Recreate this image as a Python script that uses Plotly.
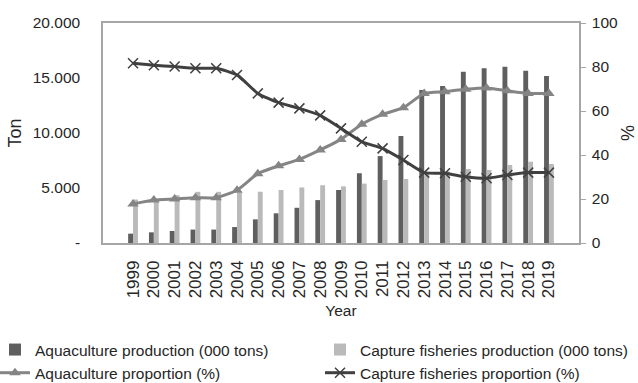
import plotly.graph_objects as go

# Production and share data, 1999-2019
years = [str(y) for y in range(1999, 2020)]
aquaculture_prod = [850, 970, 1090, 1220, 1220, 1450, 2150, 2700, 3200, 3900, 4820,
                    6340, 7900, 9730, 13900, 14270, 15570, 15880, 16030, 15670, 15180]
capture_prod = [3950, 4000, 4350, 4650, 4650, 4600, 4660, 4820, 5050, 5250, 5150,
                5400, 5730, 5820, 6450, 6500, 6730, 6640, 7090, 7390, 7180]
aquaculture_pct = [17.7, 19.5, 20.0, 20.6, 20.6, 24.0, 31.5, 35.1, 38.0, 42.3, 47.1,
                   54.0, 58.5, 61.5, 68.0, 68.8, 69.9, 70.5, 69.2, 68.0, 68.0]
capture_pct = [81.7, 80.8, 80.2, 79.4, 79.4, 76.4, 68.0, 63.8, 61.2, 58.0, 52.1,
               46.0, 43.0, 37.7, 32.0, 31.7, 30.1, 29.4, 30.9, 32.0, 32.0]

left_tickvals = [0, 5000, 10000, 15000, 20000]
left_ticktext = ["-", "5.000", "10.000", "15.000", "20.000"]
right_tickvals = [0, 20, 40, 60, 80, 100]

FONT = "Liberation Sans, Arial, sans-serif"
TXT = "#262626"
AXIS = "#a6a6a6"
FS = 15.5

fig = go.Figure()
fig.add_trace(go.Bar(x=years, y=aquaculture_prod, name="Aquaculture production (000 tons)",
                     marker=dict(color="#5f5f5f", line_width=0), legend="legend"))
fig.add_trace(go.Bar(x=years, y=capture_prod, name="Capture fisheries production (000 tons)",
                     marker=dict(color="#bababa", line_width=0), legend="legend2"))
fig.add_trace(go.Scatter(x=years, y=aquaculture_pct, name="Aquaculture proportion (%)",
                         yaxis="y2", mode="lines+markers", legend="legend",
                         line=dict(color="#858585", width=3, shape="spline", smoothing=0.5),
                         marker=dict(symbol="triangle-up", size=10, color="#858585")))
fig.add_trace(go.Scatter(x=years, y=capture_pct, name="Capture fisheries proportion (%)",
                         yaxis="y2", mode="lines+markers", legend="legend2",
                         line=dict(color="#404040", width=3, shape="spline", smoothing=0.5),
                         marker=dict(symbol="x-thin-open", size=10, color="#404040",
                                     line=dict(width=1.5, color="#404040"))))

legend_common = dict(orientation="v", yanchor="top", xanchor="left", itemwidth=30,
                     font=dict(family=FONT, size=FS, color=TXT), bgcolor="rgba(0,0,0,0)",
                     traceorder="normal", tracegroupgap=0)

fig.update_layout(
    width=638, height=383,
    margin=dict(l=103, r=59, t=23, b=140, autoexpand=False),
    paper_bgcolor="white", plot_bgcolor="white",
    barmode="group", bargap=0.53, bargroupgap=0,
    font=dict(family=FONT, size=FS, color=TXT),
    showlegend=True,
    legend=dict(x=-0.2269, y=-0.409, **legend_common),
    legend2=dict(x=0.4559, y=-0.409, **legend_common),
    xaxis=dict(type="category", tickangle=-90, tickfont=dict(family=FONT, size=17, color=TXT),
               showline=True, linecolor=AXIS, linewidth=1.5, mirror=True,
               ticks="", ticklabelstandoff=9, showgrid=False,
               title=dict(text="Year", font=dict(family=FONT, size=FS, color=TXT), standoff=8)),
    yaxis=dict(range=[0, 20000], tickvals=left_tickvals, ticktext=left_ticktext,
               tickfont=dict(family=FONT, size=FS, color=TXT),
               showline=True, linecolor=AXIS, linewidth=1.5, showgrid=False,
               ticks="", ticklabelstandoff=18, zeroline=False,
               title=dict(text="Ton", font=dict(family=FONT, size=18, color=TXT), standoff=6)),
    yaxis2=dict(range=[0, 100], tickvals=right_tickvals, overlaying="y", side="right",
                tickfont=dict(family=FONT, size=FS, color=TXT),
                showline=True, linecolor=AXIS, linewidth=1.5, showgrid=False,
                ticks="outside", ticklen=5, tickcolor=AXIS, ticklabelstandoff=3, zeroline=False,
                title=dict(text="%", font=dict(family=FONT, size=18, color=TXT), standoff=12)),
)

fig.write_html("out.html")
